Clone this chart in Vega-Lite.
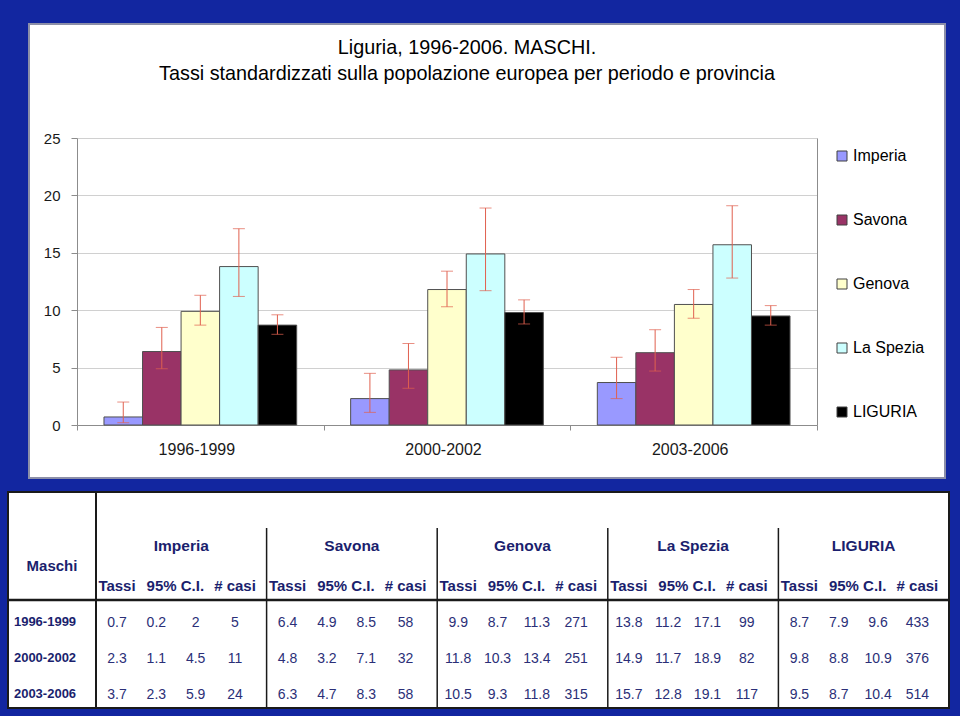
{
  "$schema": "https://vega.github.io/schema/vega-lite/v6.json",
  "background": "#1226a0",
  "padding": {"left": 5, "top": 23, "right": 12, "bottom": 8},
  "config": {"font": "Liberation Sans", "view": {"stroke": null}},
  "datasets": {
    "rates": [
      {"period": "1996-1999", "prov": "Imperia", "tassi": 0.7, "lo": 0.2, "hi": 2, "casi": 5},
      {"period": "1996-1999", "prov": "Savona", "tassi": 6.4, "lo": 4.9, "hi": 8.5, "casi": 58},
      {"period": "1996-1999", "prov": "Genova", "tassi": 9.9, "lo": 8.7, "hi": 11.3, "casi": 271},
      {"period": "1996-1999", "prov": "La Spezia", "tassi": 13.8, "lo": 11.2, "hi": 17.1, "casi": 99},
      {"period": "1996-1999", "prov": "LIGURIA", "tassi": 8.7, "lo": 7.9, "hi": 9.6, "casi": 433},
      {"period": "2000-2002", "prov": "Imperia", "tassi": 2.3, "lo": 1.1, "hi": 4.5, "casi": 11},
      {"period": "2000-2002", "prov": "Savona", "tassi": 4.8, "lo": 3.2, "hi": 7.1, "casi": 32},
      {"period": "2000-2002", "prov": "Genova", "tassi": 11.8, "lo": 10.3, "hi": 13.4, "casi": 251},
      {"period": "2000-2002", "prov": "La Spezia", "tassi": 14.9, "lo": 11.7, "hi": 18.9, "casi": 82},
      {"period": "2000-2002", "prov": "LIGURIA", "tassi": 9.8, "lo": 8.8, "hi": 10.9, "casi": 376},
      {"period": "2003-2006", "prov": "Imperia", "tassi": 3.7, "lo": 2.3, "hi": 5.9, "casi": 24},
      {"period": "2003-2006", "prov": "Savona", "tassi": 6.3, "lo": 4.7, "hi": 8.3, "casi": 58},
      {"period": "2003-2006", "prov": "Genova", "tassi": 10.5, "lo": 9.3, "hi": 11.8, "casi": 315},
      {"period": "2003-2006", "prov": "La Spezia", "tassi": 15.7, "lo": 12.8, "hi": 19.1, "casi": 117},
      {"period": "2003-2006", "prov": "LIGURIA", "tassi": 9.5, "lo": 8.7, "hi": 10.4, "casi": 514}
    ]
  },
  "spacing": 12,
  "resolve": {"scale": {"xOffset": "independent", "color": "independent"}},
  "vconcat": [
    {
      "hconcat": [
        {"data": {"values": []}, "mark": "point", "width": 1, "height": 454},
        {
          "width": 916,
          "height": 454,
          "data": {"name": "rates"},
          "view": {"fill": "white", "stroke": "#8c8fa8", "strokeWidth": 2},
          "title": {
            "text": ["Liguria, 1996-2006. MASCHI.", "Tassi standardizzati sulla popolazione europea per periodo e provincia"],
            "fontSize": 19.8,
            "fontWeight": "normal",
            "color": "#000000",
            "anchor": "middle",
            "frame": "group",
            "offset": -60,
            "lineHeight": 26,
            "dx": -20
          },
          "encoding": {
            "x": {
              "field": "period",
              "type": "nominal",
              "scale": {"domain": ["1996-1999", "2000-2002", "2003-2006"], "range": [48, 788], "paddingInner": 0, "paddingOuter": 0},
              "axis": {"orient": "bottom", "offset": -53, "tickBand": "extent", "labelAngle": 0, "labelFontSize": 16, "labelPadding": 11, "tickSize": 5, "domainColor": "#8c8c8c", "tickColor": "#8c8c8c", "labelColor": "#1a1a1a", "labelOffset": -4, "title": null}
            },
            "xOffset": {
              "field": "prov",
              "type": "nominal",
              "scale": {"domain": ["Imperia", "Savona", "Genova", "La Spezia", "LIGURIA"], "paddingInner": 0, "paddingOuter": 0.7}
            }
          },
          "layer": [
            {
              "mark": {"type": "bar", "stroke": "#505050", "strokeWidth": 1},
              "encoding": {
                "y": {
                  "field": "tassi",
                  "type": "quantitative",
                  "scale": {"domain": [0, 25], "range": [401, 114], "nice": false, "zero": true},
                  "axis": {"orient": "left", "offset": -48, "values": [0, 5, 10, 15, 20, 25], "grid": true, "gridColor": "#d0d0d0", "domainColor": "#8c8c8c", "tickColor": "#8c8c8c", "tickSize": 6, "labelFontSize": 15, "labelPadding": 11, "labelColor": "#1a1a1a", "title": null}
                },
                "color": {
                  "field": "prov",
                  "type": "nominal",
                  "scale": {"domain": ["Imperia", "Savona", "Genova", "La Spezia", "LIGURIA"], "range": ["#9999FF", "#993366", "#FFFFCC", "#CCFFFF", "#000000"]},
                  "legend": {"orient": "none", "legendX": 826, "legendY": 124, "title": null, "symbolType": "square", "symbolSize": 100, "symbolStrokeColor": "#404040", "symbolStrokeWidth": 1, "labelFontSize": 16, "labelColor": "#000000", "rowPadding": 48, "labelOffset": 3, "padding": 0}
                }
              }
            },
            {
              "mark": {"type": "rule", "color": "#e0604f", "strokeWidth": 1},
              "encoding": {
                "y": {"field": "lo", "type": "quantitative", "axis": {"orient": "right", "offset": -128, "labels": false, "ticks": false, "grid": false, "domainColor": "#8c8c8c", "title": null}},
                "y2": {"field": "hi"}
              }
            },
            {
              "mark": {"type": "tick", "color": "#e0604f", "size": 12, "thickness": 1},
              "encoding": {"y": {"field": "lo", "type": "quantitative", "axis": null}}
            },
            {
              "mark": {"type": "tick", "color": "#e0604f", "size": 12, "thickness": 1},
              "encoding": {"y": {"field": "hi", "type": "quantitative", "axis": null}}
            }
          ],
          "resolve": {"axis": {"y": "independent"}}
        }
      ],
      "spacing": 20,
      "bounds": "flush"
    },
    {
      "hconcat": [
        {
          "width": 88,
          "height": 216,
          "view": {"fill": "white", "stroke": "#1a1a1a", "strokeWidth": 2},
          "data": {"name": "rates"},
          "transform": [{"filter": "datum.prov == 'Imperia'"}],
          "layer": [
            {
              "mark": {"type": "text", "fontWeight": "bold", "fontSize": 13, "color": "#1b1f6e", "dx": -7, "dy": 4},
              "encoding": {
                "y": {"field": "period", "type": "nominal", "scale": {"domain": ["top", "h1", "h2", "1996-1999", "2000-2002", "2003-2006"], "paddingInner": 0, "paddingOuter": 0}, "axis": null},
                "text": {"field": "period", "type": "nominal"}
              }
            },
            {
              "transform": [{"filter": "datum.period == '1996-1999'"}],
              "mark": {"type": "text", "fontWeight": "bold", "fontSize": 15, "color": "#1b1f6e", "dy": 2},
              "encoding": {
                "y": {"datum": "h2", "type": "nominal", "bandPosition": 0},
                "text": {"value": "Maschi"}
              }
            },
            {
              "transform": [{"filter": "datum.period == '1996-1999'"}],
              "mark": {"type": "rule", "color": "#1a1a1a", "strokeWidth": 2.5},
              "encoding": {
                "y": {"field": "period", "type": "nominal", "bandPosition": 0}
              }
            }
          ]
        },
        {
          "width": 853,
          "height": 216,
          "view": {"fill": "white", "stroke": "#1a1a1a", "strokeWidth": 2},
          "data": {"name": "rates"},
          "layer": [
            {
              "transform": [{"fold": ["tassi", "lo", "hi", "casi"], "as": ["stat", "val"]}],
              "mark": {"type": "text", "fontSize": 14, "color": "#2b2f78", "dy": 5},
              "encoding": {
                "x": {"field": "prov", "type": "nominal", "scale": {"domain": ["Imperia", "Savona", "Genova", "La Spezia", "LIGURIA"], "paddingInner": 0, "paddingOuter": 0}, "axis": null},
                "y": {"field": "period", "type": "nominal", "scale": {"domain": ["top", "h1", "h2", "1996-1999", "2000-2002", "2003-2006"], "paddingInner": 0, "paddingOuter": 0}, "axis": null},
                "xOffset": {"field": "stat", "type": "nominal", "scale": {"type": "point", "domain": ["tassi", "lo", "hi", "casi"], "range": [21, 139], "padding": 0}},
                "text": {"field": "val", "type": "nominal"}
              }
            },
            {
              "transform": [{"filter": "datum.period == '1996-1999'"}],
              "mark": {"type": "text", "fontWeight": "bold", "fontSize": 15.5, "color": "#1b1f6e"},
              "encoding": {
                "x": {"field": "prov", "type": "nominal"},
                "y": {"datum": "h1", "type": "nominal"},
                "text": {"field": "prov", "type": "nominal"}
              }
            },
            {
              "transform": [{"filter": "datum.period == '1996-1999'"}],
              "mark": {"type": "text", "fontWeight": "bold", "fontSize": 15, "color": "#1b1f6e", "dy": 4},
              "encoding": {
                "x": {"field": "prov", "type": "nominal"},
                "y": {"datum": "h2", "type": "nominal"},
                "xOffset": {"datum": "tassi", "type": "nominal"},
                "text": {"value": "Tassi"}
              }
            },
            {
              "transform": [{"filter": "datum.period == '1996-1999'"}],
              "mark": {"type": "text", "fontWeight": "bold", "fontSize": 15, "color": "#1b1f6e", "dy": 4},
              "encoding": {
                "x": {"field": "prov", "type": "nominal"},
                "y": {"datum": "h2", "type": "nominal"},
                "xOffset": {"datum": "casi", "type": "nominal"},
                "text": {"value": "# casi"}
              }
            },
            {
              "transform": [{"filter": "datum.period == '1996-1999'"}],
              "mark": {"type": "text", "fontWeight": "bold", "fontSize": 15, "color": "#1b1f6e", "dy": 4, "dx": -6},
              "encoding": {
                "x": {"field": "prov", "type": "nominal"},
                "y": {"datum": "h2", "type": "nominal"},
                "text": {"value": "95% C.I."}
              }
            },
            {
              "transform": [{"filter": "datum.period == '1996-1999' && datum.prov == 'Imperia'"}],
              "mark": {"type": "rule", "color": "#1a1a1a", "strokeWidth": 2.5},
              "encoding": {
                "y": {"field": "period", "type": "nominal", "bandPosition": 0}
              }
            },
            {
              "transform": [{"filter": "datum.period == '1996-1999' && datum.prov != 'Imperia'"}],
              "mark": {"type": "rule", "color": "#1a1a1a", "strokeWidth": 1.5},
              "encoding": {
                "x": {"field": "prov", "type": "nominal", "bandPosition": 0},
                "y": {"datum": "h1", "type": "nominal", "bandPosition": 0},
                "y2": {"value": "height"}
              }
            }
          ]
        }
      ],
      "spacing": 0,
      "bounds": "flush"
    }
  ]
}
